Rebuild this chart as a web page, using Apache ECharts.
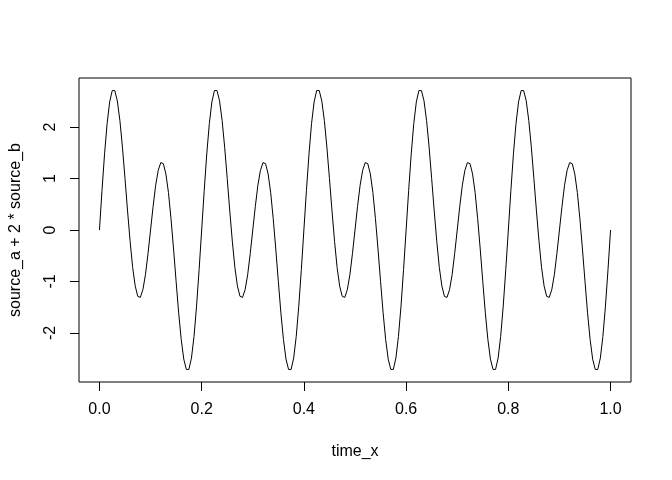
<!DOCTYPE html>
<html>
<head>
<meta charset="utf-8">
<script src="https://cdn.jsdelivr.net/npm/echarts@6/dist/echarts.min.js"></script>
<style>html,body{margin:0;padding:0;background:#fff}#c{width:672px;height:480px}</style>
</head>
<body>
<div id="c"></div>
<script>
var time_x = [0,0.005,0.01,0.015,0.02,0.025,0.03,0.035,0.04,0.045,0.05,0.055,0.06,0.065,0.07,0.075,0.08,0.085,0.09,0.095,
0.1,0.105,0.11,0.115,0.12,0.125,0.13,0.135,0.14,0.145,0.15,0.155,0.16,0.165,0.17,0.175,0.18,0.185,0.19,0.195,
0.2,0.205,0.21,0.215,0.22,0.225,0.23,0.235,0.24,0.245,0.25,0.255,0.26,0.265,0.27,0.275,0.28,0.285,0.29,0.295,
0.3,0.305,0.31,0.315,0.32,0.325,0.33,0.335,0.34,0.345,0.35,0.355,0.36,0.365,0.37,0.375,0.38,0.385,0.39,0.395,
0.4,0.405,0.41,0.415,0.42,0.425,0.43,0.435,0.44,0.445,0.45,0.455,0.46,0.465,0.47,0.475,0.48,0.485,0.49,0.495,
0.5,0.505,0.51,0.515,0.52,0.525,0.53,0.535,0.54,0.545,0.55,0.555,0.56,0.565,0.57,0.575,0.58,0.585,0.59,0.595,
0.6,0.605,0.61,0.615,0.62,0.625,0.63,0.635,0.64,0.645,0.65,0.655,0.66,0.665,0.67,0.675,0.68,0.685,0.69,0.695,
0.7,0.705,0.71,0.715,0.72,0.725,0.73,0.735,0.74,0.745,0.75,0.755,0.76,0.765,0.77,0.775,0.78,0.785,0.79,0.795,
0.8,0.805,0.81,0.815,0.82,0.825,0.83,0.835,0.84,0.845,0.85,0.855,0.86,0.865,0.87,0.875,0.88,0.885,0.89,0.895,
0.9,0.905,0.91,0.915,0.92,0.925,0.93,0.935,0.94,0.945,0.95,0.955,0.96,0.965,0.97,0.975,0.98,0.985,0.99,0.995,
1.0];
var signal_y = [
0,0.77,1.48,2.07,2.49,2.71,2.71,2.51,2.13,1.61,1.00,0.37,-0.22,-0.73,-1.09,-1.29,-1.31,-1.16,-0.87,-0.46,
0,0.46,0.87,1.16,1.31,1.29,1.09,0.73,0.22,-0.37,-1.00,-1.61,-2.13,-2.51,-2.71,-2.71,-2.49,-2.07,-1.48,-0.77,
0,0.77,1.48,2.07,2.49,2.71,2.71,2.51,2.13,1.61,1.00,0.37,-0.22,-0.73,-1.09,-1.29,-1.31,-1.16,-0.87,-0.46,
0,0.46,0.87,1.16,1.31,1.29,1.09,0.73,0.22,-0.37,-1.00,-1.61,-2.13,-2.51,-2.71,-2.71,-2.49,-2.07,-1.48,-0.77,
0,0.77,1.48,2.07,2.49,2.71,2.71,2.51,2.13,1.61,1.00,0.37,-0.22,-0.73,-1.09,-1.29,-1.31,-1.16,-0.87,-0.46,
0,0.46,0.87,1.16,1.31,1.29,1.09,0.73,0.22,-0.37,-1.00,-1.61,-2.13,-2.51,-2.71,-2.71,-2.49,-2.07,-1.48,-0.77,
0,0.77,1.48,2.07,2.49,2.71,2.71,2.51,2.13,1.61,1.00,0.37,-0.22,-0.73,-1.09,-1.29,-1.31,-1.16,-0.87,-0.46,
0,0.46,0.87,1.16,1.31,1.29,1.09,0.73,0.22,-0.37,-1.00,-1.61,-2.13,-2.51,-2.71,-2.71,-2.49,-2.07,-1.48,-0.77,
0,0.77,1.48,2.07,2.49,2.71,2.71,2.51,2.13,1.61,1.00,0.37,-0.22,-0.73,-1.09,-1.29,-1.31,-1.16,-0.87,-0.46,
0,0.46,0.87,1.16,1.31,1.29,1.09,0.73,0.22,-0.37,-1.00,-1.61,-2.13,-2.51,-2.71,-2.71,-2.49,-2.07,-1.48,-0.77,
0];
var x_ticks = [0, 0.2, 0.4, 0.6, 0.8, 1.0];
var y_ticks = [-2, -1, 0, 1, 2];
var x_title = 'time_x';
var y_title = 'source_a + 2 * source_b';

var pts = time_x.map(function (t, i) { return [t, signal_y[i]]; });
var font = '"Liberation Sans", Arial, sans-serif';
var chart = echarts.init(document.getElementById('c'), null, {renderer: 'canvas'});
chart.setOption({
  animation: false,
  backgroundColor: '#ffffff',
  grid: {left: 78, top: 78, right: 41, bottom: 98, show: true, borderColor: '#000', borderWidth: 1, backgroundColor: 'transparent'},
  xAxis: {
    type: 'value', min: -0.04, max: 1.04,
    name: x_title, nameLocation: 'middle', nameGap: 62,
    nameTextStyle: {fontFamily: font, fontSize: 16, color: '#000'},
    axisLine: {show: false, onZero: false},
    axisTick: {show: true, inside: false, length: 9, lineStyle: {color: '#000', width: 1}, customValues: x_ticks},
    axisLabel: {show: true, margin: 20, fontFamily: font, fontSize: 16, color: '#000', customValues: x_ticks,
      formatter: function (v) { return v.toFixed(1); }},
    splitLine: {show: false}
  },
  yAxis: {
    type: 'value', min: -2.9544, max: 2.9544,
    name: y_title, nameLocation: 'middle', nameGap: 55, nameRotate: 90,
    nameTextStyle: {fontFamily: font, fontSize: 16, color: '#000'},
    axisLine: {show: false, onZero: false},
    axisTick: {show: true, inside: false, length: 9, lineStyle: {color: '#000', width: 1}, customValues: y_ticks},
    axisLabel: {show: true, rotate: 90, margin: 20, fontFamily: font, fontSize: 16, color: '#000', customValues: y_ticks,
      formatter: function (v) { return String(v); }},
    splitLine: {show: false}
  },
  series: [{
    type: 'line', data: pts, showSymbol: false, smooth: false,
    lineStyle: {color: '#000', width: 1}, clip: true
  }]
});
</script>
</body>
</html>
